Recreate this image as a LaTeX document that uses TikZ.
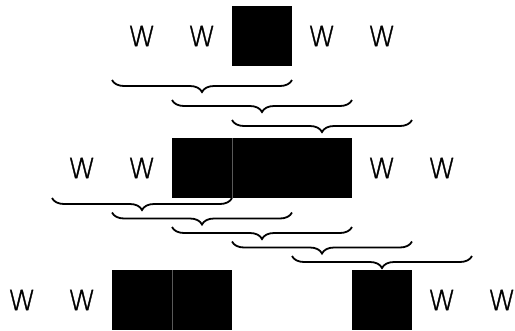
\documentclass[tikz,border=0pt]{standalone}
\usepackage{fontspec}
\setmainfont[FakeBold=1.2]{DejaVu Sans ExtraLight}
\usetikzlibrary{decorations.pathreplacing}
\begin{document}
\begin{tikzpicture}[x=1pt,y=-1pt,
  cell/.style={minimum width=60pt,minimum height=60pt,inner sep=0pt,outer sep=0pt,
    font=\fontsize{28}{28}\selectfont},
  wcell/.style={cell},
  bcell/.style={cell,fill=black},
  seam/.style={draw=black!65,line width=0.6pt},
  brc/.style={decorate,decoration={brace,mirror,amplitude=12pt},line width=1.8pt}]
\useasboundingbox (0,0) rectangle (515,330);
% row 1
\node[wcell] (a2) at (142,36) {W};
\node[wcell] (a3) at (202,36) {W};
\node[bcell] (a4) at (262,36) {};
\node[wcell] (a5) at (322,36) {W};
\node[wcell] (a6) at (382,36) {W};
% row 2
\node[wcell] (b1) at (82,168) {W};
\node[wcell] (b2) at (142,168) {W};
\node[bcell] (b3) at (202,168) {};
\node[bcell] (b4) at (262,168) {};
\node[bcell] (b5) at (322,168) {};
\node[wcell] (b6) at (382,168) {W};
\node[wcell] (b7) at (442,168) {W};
% row 3
\node[wcell] (c0) at (22,300) {W};
\node[wcell] (c1) at (82,300) {W};
\node[bcell] (c2) at (142,300) {};
\node[bcell] (c3) at (202,300) {};
\node[bcell] (c6) at (382,300) {};
\node[wcell] (c7) at (442,300) {W};
\node[wcell] (c8) at (502,300) {W};
% faint seams between adjacent boxes
\draw[seam] (b3.north east) -- (b3.south east);
\draw[seam] (c2.north east) -- (c2.south east);
% braces under row 1
\draw[brc] ([yshift=-14pt]a2.south west) -- ([yshift=-14pt]a4.south east);
\draw[brc] ([yshift=-34pt]a3.south west) -- ([yshift=-34pt]a5.south east);
\draw[brc] ([yshift=-54pt]a4.south west) -- ([yshift=-54pt]a6.south east);
% braces under row 2
\draw[brc] ([yshift=0pt]b1.south west) -- ([yshift=0pt]b3.south east);
\draw[brc] ([yshift=-14.5pt]b2.south west) -- ([yshift=-14.5pt]b4.south east);
\draw[brc] ([yshift=-29pt]b3.south west) -- ([yshift=-29pt]b5.south east);
\draw[brc] ([yshift=-43.5pt]b4.south west) -- ([yshift=-43.5pt]b6.south east);
\draw[brc] ([yshift=-58pt]b5.south west) -- ([yshift=-58pt]b7.south east);
\end{tikzpicture}
\end{document}
